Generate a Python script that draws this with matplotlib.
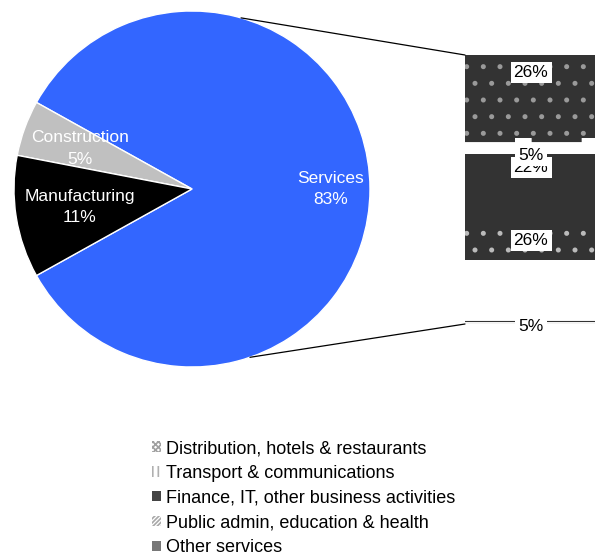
import matplotlib
matplotlib.use('Agg')
import matplotlib.pyplot as plt
from matplotlib.patches import ConnectionPatch, Patch
import numpy as np

plt.rcParams['font.family'] = ['Liberation Sans', 'DejaVu Sans']
plt.rcParams['hatch.linewidth'] = 1.2

# main pie: share of output by sector
sectors = ['Services', 'Construction', 'Manufacturing']
sector_pct = [83, 5, 11]
sector_colors = ['#3366FF', '#C0C0C0', '#000000']

# breakdown of services (top to bottom in the bar)
svc_names = ['Distribution, hotels & restaurants', 'Transport & communications',
             'Finance, IT, other business activities', 'Public admin, education & health',
             'Other services']
svc_pct = [26, 5, 22, 26, 5]

W, H = 595, 558
fig = plt.figure(figsize=(W / 100, H / 100), dpi=100)

# pie axes, centre (192, 189) px, radius 178 px
cx, cy, r = 192, 189, 178
ax = fig.add_axes([(cx - r) / W, (H - cy - r) / H, 2 * r / W, 2 * r / H])
total = sum(sector_pct)
start = -sector_pct[0] / total * 180
wedges, _ = ax.pie(sector_pct, colors=sector_colors, startangle=start, radius=1,
                   wedgeprops=dict(edgecolor='white', linewidth=1))
ax.set_xlim(-1, 1)
ax.set_ylim(-1, 1)
ax.set_aspect('equal')
ax.axis('off')

label_dist = [0.78, 0.67, 0.64]
for w, name, pct, d in zip(wedges, sectors, sector_pct, label_dist):
    mid = np.deg2rad((w.theta1 + w.theta2) / 2)
    ax.text(d * np.cos(mid), d * np.sin(mid), f'{name}\n{pct}%', ha='center', va='center',
            color='white', fontsize=12.5, linespacing=1.55)

# stacked bar on the right, partly running off the figure edge
bx0, btop, bbot = 465, 55, 324
axb = fig.add_axes([bx0 / W, (H - bbot) / H, 150 / W, (bbot - btop) / H])
axb.set_xlim(0, 1)
axb.set_ylim(0, sum(svc_pct))
axb.axis('off')

dark = '#333333'
faces = [dark, 'white', dark, dark, 'white']
hatch_col = ['#9a9a9a', dark, dark, '#bbbbbb', dark]
hatches = ['.', '', '', '.', '']
tops = sum(svc_pct) - np.cumsum([0] + svc_pct[:-1])
bottoms = tops - np.array(svc_pct)
for b, v, fc, hc, h in zip(bottoms, svc_pct, faces, hatch_col, hatches):
    axb.bar(0.5, v, bottom=b, width=1, color=fc, edgecolor=hc, hatch=h, linewidth=0)

# lower part of the public admin block shows up pale
axb.bar(0.5, svc_pct[3] * 0.58, bottom=bottoms[3], width=1, color='white', linewidth=0)
# dashed rule on top of the transport block
axb.plot([0, 1], [tops[1] - 0.6] * 2, color=dark, lw=3, ls=(0, (12, 4)))
# double rule along the foot of the bar
axb.plot([0, 1], [0.1, 0.1], color=dark, lw=0.8)
axb.plot([0, 1], [1.0, 1.0], color=dark, lw=0.8)

# labels drawn bottom-up so the small blocks sit on top
label_shift = [-7.5, 2.8, -6.8, -8.0, 3.3]
for i in reversed(range(len(svc_pct))):
    b, v, s = bottoms[i], svc_pct[i], label_shift[i]
    axb.text(0.44, b + v / 2 - s, f'{v}%', ha='center', va='center', fontsize=12.5,
             bbox=dict(facecolor='white', edgecolor='none', pad=2.2), clip_on=False)

# leader lines from the pie to the bar corners
for ang, yb in [(74, sum(svc_pct)), (-71, 0)]:
    a = np.deg2rad(ang)
    con = ConnectionPatch(xyA=(np.cos(a), np.sin(a)), coordsA=ax.transData,
                          xyB=(0, yb), coordsB=axb.transData, color='black', lw=0.9)
    fig.add_artist(con)

handles = [
    Patch(facecolor='white', edgecolor='#a0a0a0', hatch='x' * 6, linewidth=0),
    Patch(facecolor='white', edgecolor='#b0b0b0', hatch='|' * 3, linewidth=0),
    Patch(facecolor='white', edgecolor='#444444', hatch='|' * 12, linewidth=0),
    Patch(facecolor='white', edgecolor='#a8a8a8', hatch='/' * 8, linewidth=0),
    Patch(facecolor='#dddddd', edgecolor='#777777', hatch='+' * 10, linewidth=0),
]
fig.legend(handles, svc_names, loc='upper left', bbox_to_anchor=(152 / W, 1 - 440 / H),
           frameon=False, fontsize=13, handlelength=0.5, handleheight=0.5,
           handletextpad=0.3, labelspacing=0.43, borderpad=0, borderaxespad=0)

fig.savefig('out.png', dpi=100)
